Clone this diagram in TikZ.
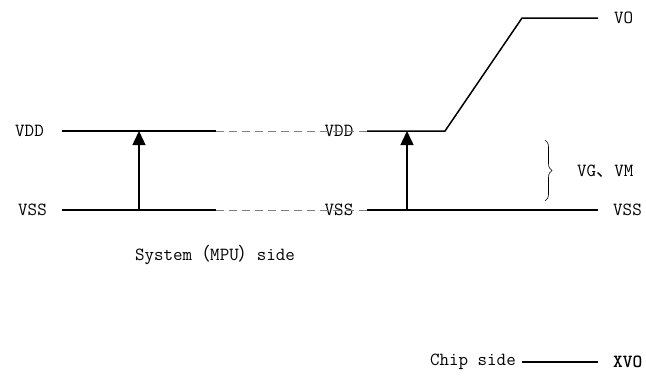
\documentclass[tikz,border=0pt]{standalone}
\usepackage{fontspec}
\newfontfamily\cjk{Noto Sans CJK SC}
\usetikzlibrary{arrows.meta,decorations.pathreplacing}

\tikzset{
    lbl/.style={inner sep=0pt, font=\ttfamily\fontsize{18.5}{22}\selectfont},
    rail/.style={line width=1.5pt},
    link/.style={line width=0.9pt, gray, dash pattern=on 8pt off 5pt},
    lift/.style={line width=1.5pt, -{Triangle[length=14pt,width=13pt]}}
}

\begin{document}
\begin{tikzpicture}[x=1pt, y=-1pt]
\useasboundingbox (0,0) rectangle (646,376);

% system side
\node[lbl, anchor=east] (vdd) at (44,131) {VDD};
\node[lbl, anchor=east] (vss) at (47,210) {VSS};
\coordinate (vddA) at (62,131);
\coordinate (vddB) at (216,131);
\coordinate (vssA) at (62,210);
\coordinate (vssB) at (216,210);
\draw[rail] (vddA) -- (vddB);
\draw[rail] (vssA) -- (vssB);
\draw[lift] (139,210) -- (139,131);
\node[lbl] (sys) at (215,255) {System{\cjk\fontsize{18}{22}\selectfont （}MPU{\cjk\fontsize{18}{22}\selectfont ）}side};

% chip side
\node[lbl] (vddM) at (339,131) {VDD};
\node[lbl] (vssM) at (339,210) {VSS};
\coordinate (vddC) at (367,131);
\coordinate (vssC) at (367,210);
\draw[link] (vddB) -- (vddC);
\draw[link] (vssB) -- (vssC);
\coordinate (bend) at (445,131);
\coordinate (top) at (522,18);
\coordinate (voE) at (598,18);
\coordinate (vssE) at (598,210);
\draw[rail] (vddC) -- (bend) -- (top) -- (voE);
\draw[rail] (vssC) -- (vssE);
\draw[lift] (407,210) -- (407,131);
\node[lbl, anchor=west] (vo) at (614,18) {VO};
\node[lbl, anchor=west] (vssR) at (613,210) {VSS};

% gate levels
\draw[line width=0.6pt, decorate, decoration={brace, amplitude=7pt}] (545,140) -- (545,201);
\node[lbl, anchor=west] (vg) at (577,171) {VG{\cjk\fontsize{18}{22}\selectfont 、}VM};

% chip output
\node[lbl, anchor=east] (chip) at (516,362) {Chip side};
\coordinate (xvoA) at (522,362);
\coordinate (xvoB) at (598,362);
\draw[rail] (xvoA) -- (xvoB);
\node[lbl, anchor=west, font=\ttfamily\fontsize{18.5}{22}\selectfont\bfseries] (xvo) at (613,362) {XVO};
\end{tikzpicture}
\end{document}
